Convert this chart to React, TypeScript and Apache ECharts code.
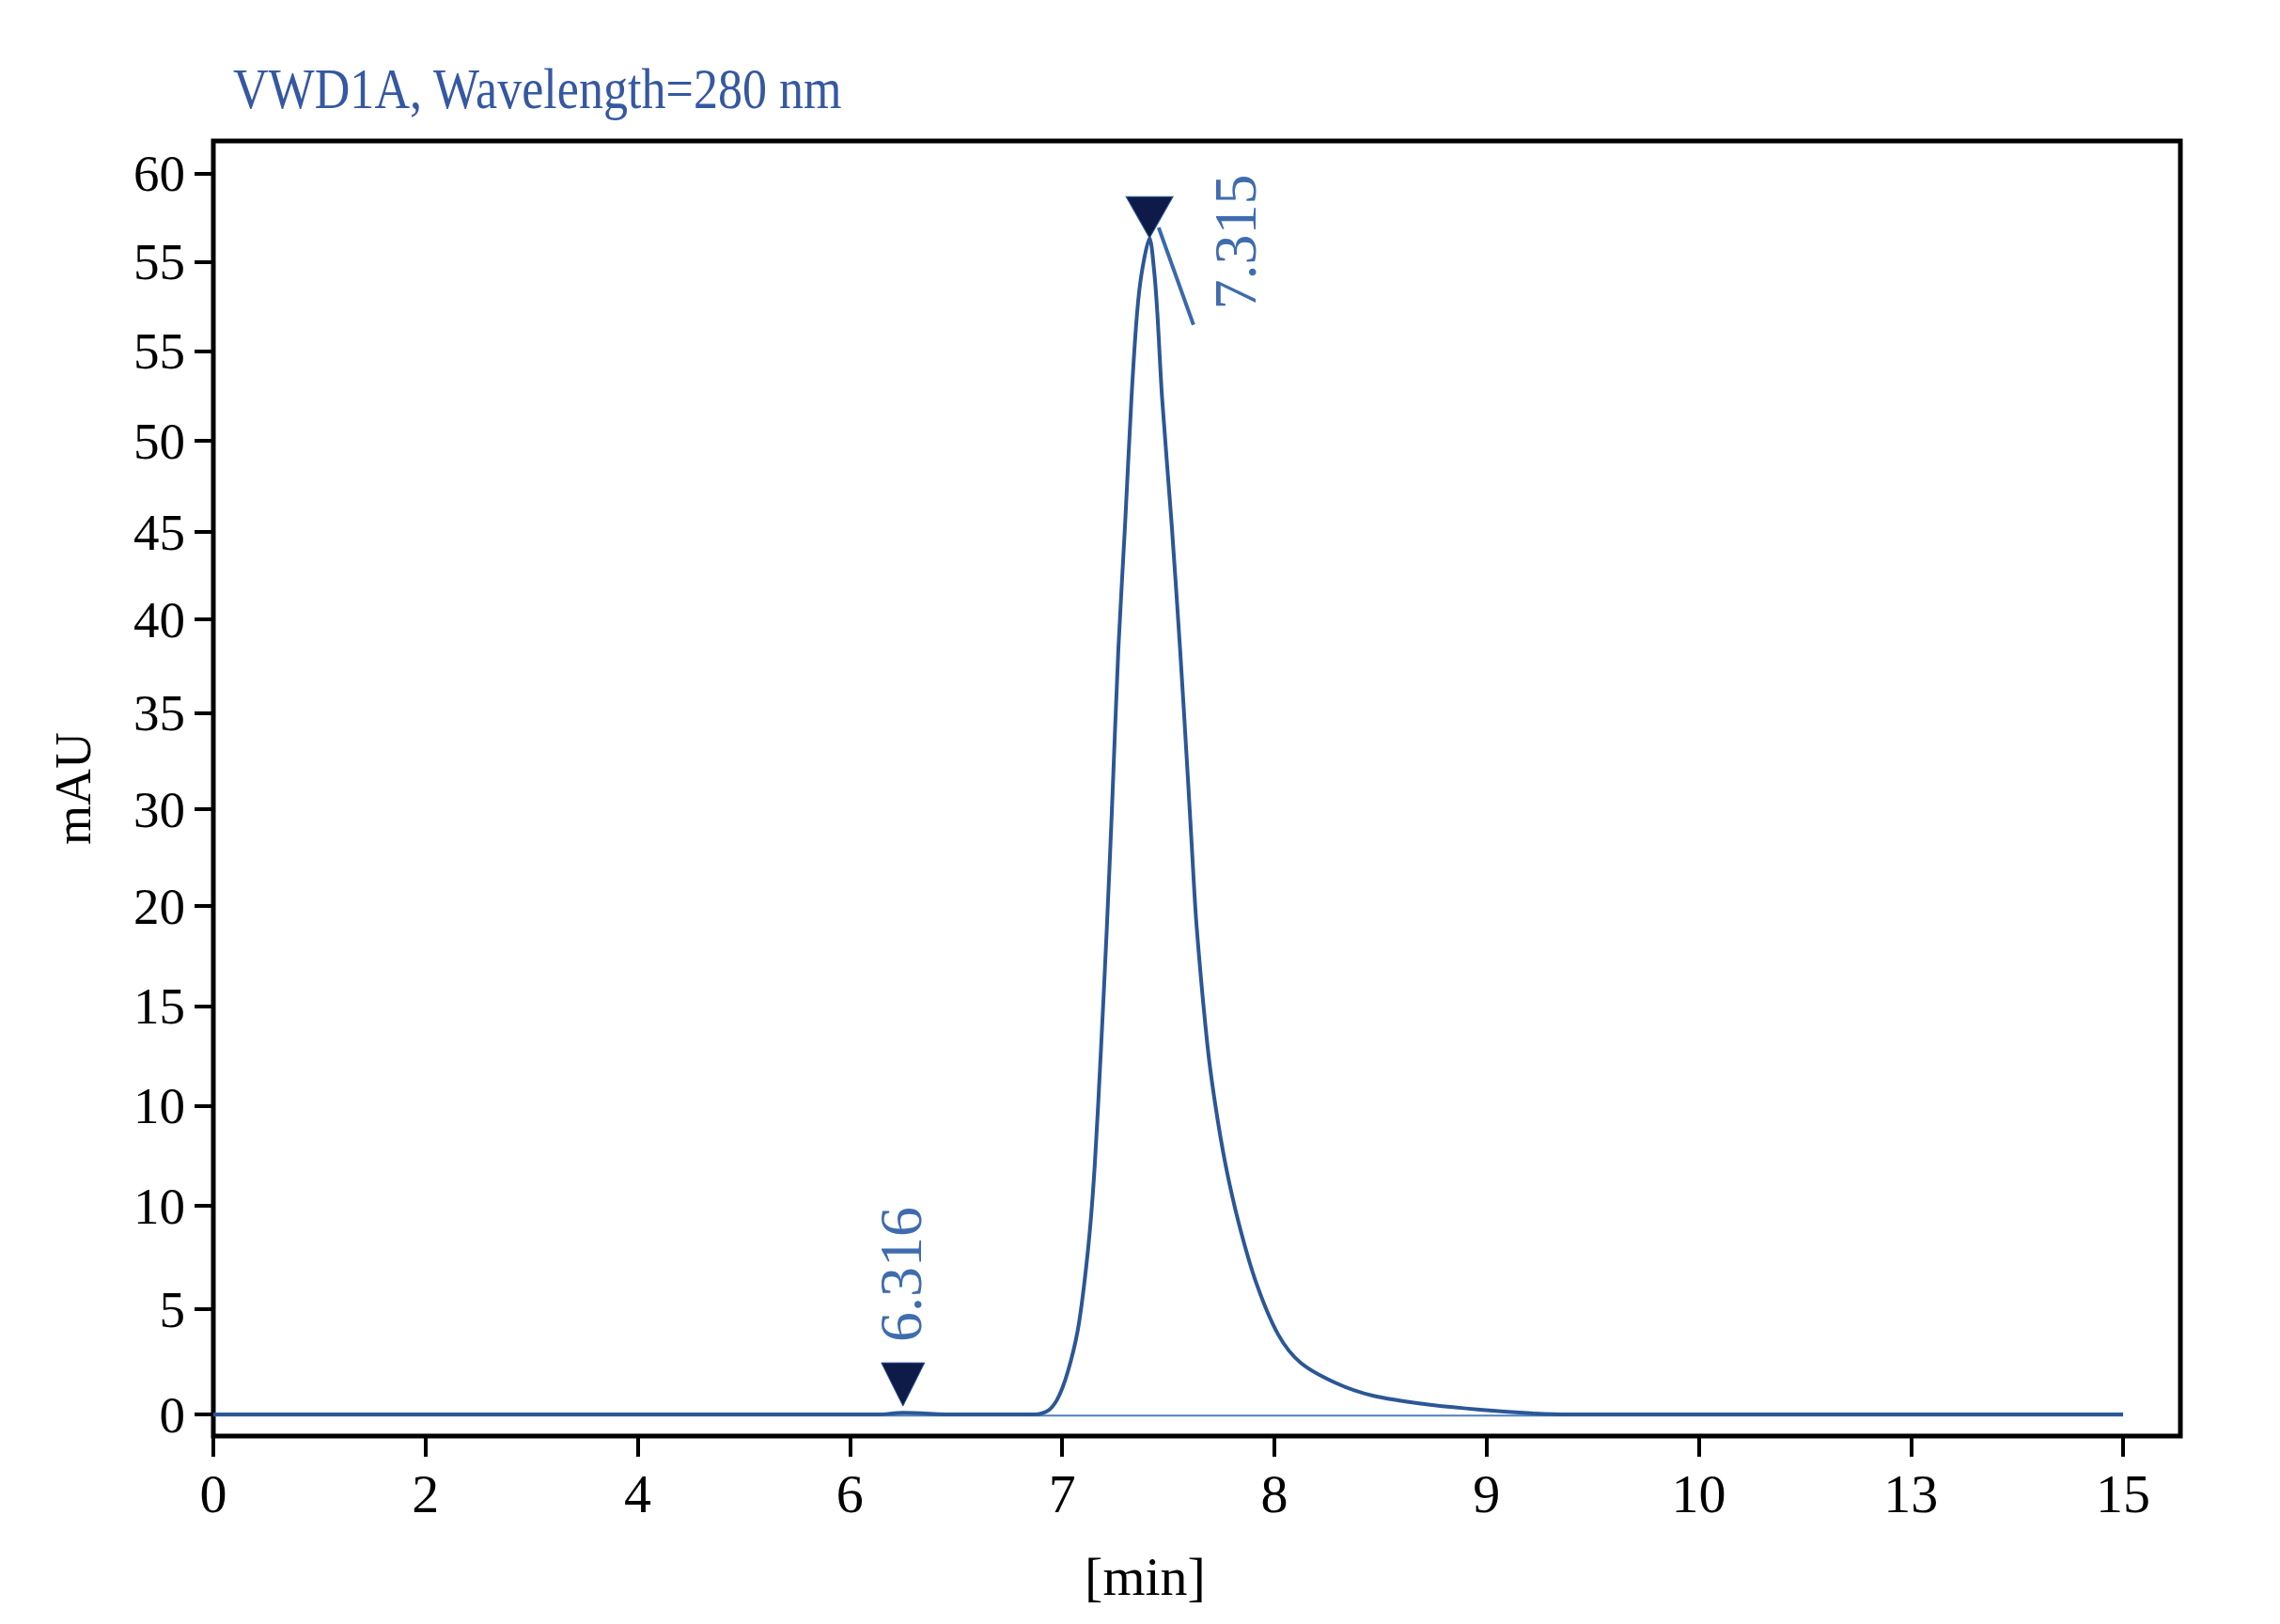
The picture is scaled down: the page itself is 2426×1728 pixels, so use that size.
import React, { useEffect, useRef } from 'react';
import * as echarts from 'echarts';

const TITLE = 'VWD1A, Wavelength=280 nm';
const X_NAME = '[min]';
const Y_NAME = 'mAU';

// x tick labels sit at equal spacing on the axis
const X_TICK_TIMES = [0, 2, 4, 6, 7, 8, 9, 10, 13, 15];
const X_TICK_LABELS = ['0', '2', '4', '6', '7', '8', '9', '10', '13', '15'];
// y tick positions (mAU scale) and their printed labels
const Y_TICK_VALUES = [0, 5.09, 10.09, 14.91, 19.73, 24.59, 29.27, 33.91, 38.45, 42.68, 47.09, 51.41, 55.73, 60];
const Y_TICK_LABELS = ['0', '5', '10', '10', '15', '20', '30', '35', '40', '45', '50', '55', '55', '60'];

// chromatogram trace
const TRACE_TIME = [0, 2, 4, 6, 6.13, 6.25, 6.5, 6.87, 6.94, 6.99, 7.04, 7.08, 7.125, 7.154, 7.184, 7.211, 7.235, 7.265, 7.297, 7.327, 7.353, 7.376, 7.412, 7.434, 7.449, 7.471, 7.516, 7.556, 7.592, 7.611, 7.634, 7.685, 7.722, 7.77, 7.833, 7.915, 8.018, 8.124, 8.292, 8.463, 8.717, 8.97, 9.225, 9.395, 10, 13, 15];
const TRACE_MAU = [0, 0, 0, 0, 0, 0.08, 0, 0, 0.23, 1.0, 2.55, 4.45, 8.27, 12.09, 17.84, 23.59, 29.32, 37.0, 43.09, 49.18, 53.23, 55.27, 56.88, 55.27, 53.23, 49.18, 43.09, 37.0, 30.91, 27.5, 23.59, 17.84, 14.97, 12.09, 9.23, 6.36, 3.87, 2.5, 1.51, 0.91, 0.49, 0.23, 0.05, 0, 0, 0, 0];

// integration baseline
const BASE_TIME = [0, 15];
const BASE_MAU = [-0.06, -0.06];

// peak markers
const PEAK_TIME = [6.25, 7.412];
const PEAK_MARK_MAU = [1.45, 57.9];
const PEAK_LABELS = ['6.316', '7.315'];
const PEAK_LABEL_TIME = [6.242, 7.818];
const PEAK_LABEL_MAU = [6.77, 56.7];

// slanted tick below the main peak marker
const DROP_TIME = [7.455, 7.619];
const DROP_MAU = [57.4, 52.7];

function toAxis(t: number): number {
  const n = X_TICK_TIMES.length;
  for (let i = 0; i < n - 1; i++) {
    const a = X_TICK_TIMES[i];
    const b = X_TICK_TIMES[i + 1];
    if (t <= b || i === n - 2) return i + (t - a) / (b - a);
  }
  return 0;
}

const SERIF = '"Liberation Serif", "Times New Roman", serif';
const TRACE_COLOR = '#2b5797';
const LABEL_BLUE = '#3f6cae';

export default function App() {
  const ref = useRef<HTMLDivElement>(null);

  useEffect(() => {
    if (!ref.current) return;
    const chart = echarts.init(ref.current, undefined, { renderer: 'svg' });

    const trace = TRACE_TIME.map((t, i) => [toAxis(t), TRACE_MAU[i]]);
    const base = BASE_TIME.map((t, i) => [toAxis(t), BASE_MAU[i]]);
    const drop = DROP_TIME.map((t, i) => [toAxis(t), DROP_MAU[i]]);
    const marks = PEAK_TIME.map((t, i) => ({
      value: [toAxis(t), PEAK_MARK_MAU[i]],
      symbolSize: i === 0 ? [46, 46] : [50, 44],
    }));
    const labels = PEAK_LABEL_TIME.map((t, i) => ({
      value: [toAxis(t), PEAK_LABEL_MAU[i]],
      name: PEAK_LABELS[i],
    }));

    const xTickPos = X_TICK_TIMES.map((_, i) => i);

    chart.setOption({
      animation: false,
      backgroundColor: '#ffffff',
      grid: {
        left: 227,
        right: 106,
        top: 150,
        bottom: 200,
        show: true,
        borderColor: '#000000',
        borderWidth: 5,
        backgroundColor: 'transparent',
      },
      graphic: [
        {
          type: 'text',
          x: 248,
          y: 94,
          scaleX: 0.84,
          style: {
            text: TITLE,
            font: `62px ${SERIF}`,
            fill: '#3558a2',
            verticalAlign: 'middle',
          },
        },
      ],
      xAxis: {
        type: 'value',
        min: 0,
        max: 9.27,
        name: X_NAME,
        nameLocation: 'middle',
        nameGap: 120,
        nameTextStyle: {
          fontFamily: SERIF,
          fontSize: 58,
          color: '#000',
          padding: [0, 110, 0, 0],
        },
        axisLine: { show: false, onZero: false },
        axisTick: {
          show: true,
          inside: false,
          length: 22,
          customValues: xTickPos,
          lineStyle: { color: '#000', width: 4 },
        },
        axisLabel: {
          show: true,
          margin: 32,
          customValues: xTickPos,
          fontFamily: SERIF,
          fontSize: 58,
          color: '#000',
          formatter: (v: number) => X_TICK_LABELS[Math.round(v)] ?? '',
        },
        splitLine: { show: false },
      },
      yAxis: {
        type: 'value',
        min: -1.045,
        max: 61.59,
        name: Y_NAME,
        nameLocation: 'middle',
        nameGap: 122,
        nameRotate: 90,
        nameTextStyle: {
          fontFamily: SERIF,
          fontSize: 54,
          color: '#000',
        },
        axisLine: { show: false },
        axisTick: {
          show: true,
          inside: false,
          length: 20,
          customValues: Y_TICK_VALUES,
          lineStyle: { color: '#000', width: 4 },
        },
        axisLabel: {
          show: true,
          margin: 30,
          customValues: Y_TICK_VALUES,
          fontFamily: SERIF,
          fontSize: 55,
          color: '#000',
          formatter: (v: number) => {
            let best = 0;
            for (let i = 1; i < Y_TICK_VALUES.length; i++) {
              if (Math.abs(Y_TICK_VALUES[i] - v) < Math.abs(Y_TICK_VALUES[best] - v)) best = i;
            }
            return Y_TICK_LABELS[best];
          },
        },
        splitLine: { show: false },
      },
      series: [
        {
          type: 'line',
          data: base,
          symbol: 'none',
          lineStyle: { color: '#4f7fbf', width: 2 },
          z: 2,
        },
        {
          type: 'line',
          data: trace,
          symbol: 'none',
          smooth: 0.3,
          lineStyle: { color: TRACE_COLOR, width: 4 },
          z: 3,
        },
        {
          type: 'line',
          data: drop,
          symbol: 'none',
          lineStyle: { color: '#3a68ad', width: 4 },
          z: 4,
        },
        {
          type: 'scatter',
          data: marks,
          symbol: 'triangle',
          symbolRotate: 180,
          itemStyle: { color: '#0e1b48', opacity: 1, borderColor: '#2b5797', borderWidth: 1 },
          z: 5,
        },
        {
          type: 'scatter',
          data: labels,
          symbolSize: 0,
          itemStyle: { opacity: 1 },
          label: {
            show: true,
            position: 'inside',
            rotate: 90,
            formatter: (p: any) => p.name,
            fontFamily: SERIF,
            fontSize: 64,
            color: LABEL_BLUE,
            opacity: 1,
          },
          z: 6,
        },
      ],
    });

    return () => chart.dispose();
  }, []);

  return (
    <div
      ref={ref}
      style={{ position: 'absolute', left: 0, top: 0, width: 2426, height: 1728 }}
    />
  );
}
